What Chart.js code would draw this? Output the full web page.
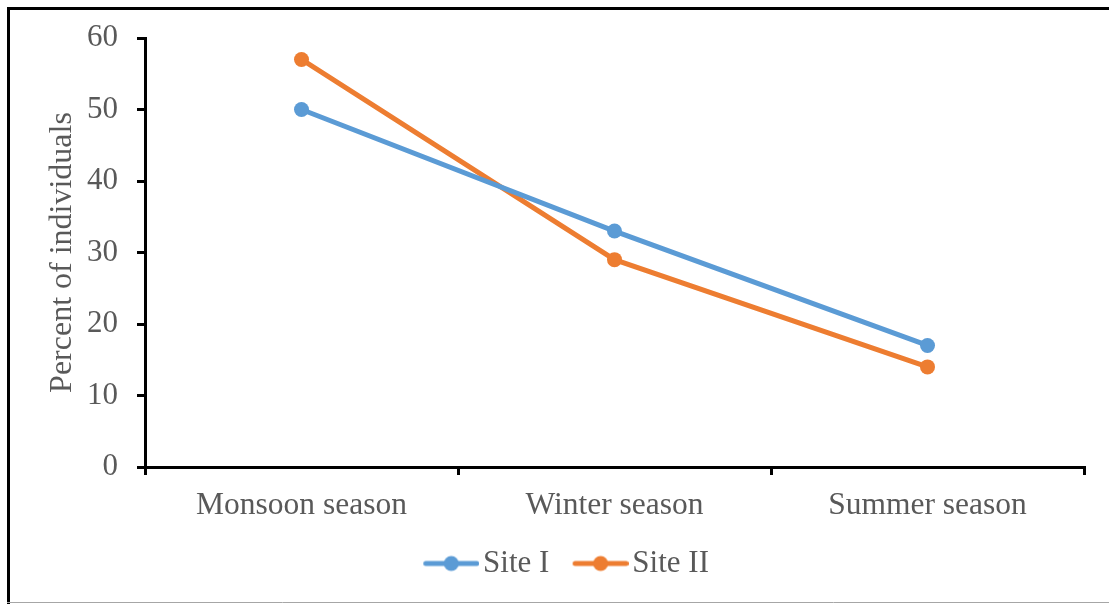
<!DOCTYPE html>
<html>
<head>
<meta charset="utf-8">
<script src="https://cdn.jsdelivr.net/npm/chart.js@4"></script>
<style>
  html, body { margin: 0; padding: 0; background: #fff; }
  #wrap { width: 1109px; height: 604px; position: relative; }
</style>
</head>
<body>
<div id="wrap"><canvas id="chart"></canvas></div>
<script>
// chart data
const seasons = ['Monsoon season', 'Winter season', 'Summer season'];
const siteOne = [50, 33, 17];
const siteTwo = [57, 29, 14];
const yTicks = [0, 10, 20, 30, 40, 50, 60];

const blue = '#5B9BD5';
const orange = '#ED7D31';
const textGray = '#595959';
const fontFamily = "'Liberation Serif', 'Times New Roman', serif";

Chart.defaults.font.family = fontFamily;
Chart.defaults.font.size = 31;
Chart.defaults.color = textGray;

// legend entry: line + dot, drawn on the right part of a wider canvas
// so the gap before the text stays small (legend centres the image)
const markerBox = 52.5;
function legendMarker(color) {
  const c = document.createElement('canvas');
  c.width = 76;
  c.height = 18;
  const ctx = c.getContext('2d');
  const x0 = 20, x1 = 76;
  ctx.strokeStyle = color;
  ctx.lineWidth = 5;
  ctx.lineCap = 'round';
  ctx.beginPath();
  ctx.moveTo(x0 + 2.5, 9);
  ctx.lineTo(x1 - 2.5, 9);
  ctx.stroke();
  ctx.fillStyle = color;
  ctx.beginPath();
  ctx.arc((x0 + x1) / 2, 9, 7.5, 0, Math.PI * 2);
  ctx.fill();
  return c;
}
const markers = [legendMarker(blue), legendMarker(orange)];

// frame round the picture: black top/left, thin grey bottom
const framePlugin = {
  id: 'frame',
  beforeDraw(chart) {
    const ctx = chart.ctx;
    ctx.save();
    ctx.strokeStyle = '#000';
    ctx.lineWidth = 3;
    ctx.beginPath();
    ctx.moveTo(8.5, 604);
    ctx.lineTo(8.5, 8.5);
    ctx.lineTo(1109, 8.5);
    ctx.stroke();
    ctx.strokeStyle = '#A6A6A6';
    ctx.lineWidth = 1;
    ctx.beginPath();
    ctx.moveTo(7, 602.5);
    ctx.lineTo(1109, 602.5);
    ctx.stroke();
    ctx.restore();
  }
};

new Chart(document.getElementById('chart'), {
  type: 'line',
  data: {
    labels: seasons,
    datasets: [
      {
        label: 'Site I',
        data: siteOne,
        borderColor: blue,
        backgroundColor: blue,
        pointBackgroundColor: blue,
        borderWidth: 5,
        pointRadius: 7.5,
        pointBorderWidth: 0,
        tension: 0
      },
      {
        label: 'Site II',
        data: siteTwo,
        borderColor: orange,
        backgroundColor: orange,
        pointBackgroundColor: orange,
        borderWidth: 5,
        pointRadius: 7.5,
        pointBorderWidth: 0,
        tension: 0
      }
    ]
  },
  options: {
    responsive: true,
    maintainAspectRatio: false,
    animation: false,
    layout: {
      padding: { left: 40, right: 25, top: 38, bottom: 15 }
    },
    scales: {
      x: {
        offset: true,
        grid: {
          offset: true,
          drawOnChartArea: false,
          drawTicks: true,
          tickLength: 8,
          color: '#000',
          lineWidth: 3
        },
        border: { color: '#000', width: 3 },
        ticks: { padding: 12, color: textGray, maxRotation: 0, font: { size: 31.5 } },
        afterFit(scale) { scale.height = 66; }
      },
      y: {
        min: 0,
        max: 60,
        afterBuildTicks(scale) {
          scale.ticks = yTicks.map(v => ({ value: v }));
        },
        grid: {
          drawOnChartArea: false,
          drawTicks: true,
          tickLength: 8,
          color: '#000',
          lineWidth: 3
        },
        border: { color: '#000', width: 3 },
        ticks: { padding: 19, color: textGray },
        title: {
          display: true,
          text: 'Percent of individuals',
          color: textGray,
          font: { size: 32 },
          padding: { top: 3, bottom: 0 }
        },
        afterFit(scale) { scale.width = 105; }
      }
    },
    plugins: {
      tooltip: { enabled: false },
      legend: {
        position: 'bottom',
        labels: {
          usePointStyle: true,
          pointStyleWidth: markerBox,
          padding: 15,
          color: textGray,
          font: { size: 31 },
          generateLabels(chart) {
            const items = Chart.defaults.plugins.legend.labels.generateLabels(chart);
            items.forEach((item, i) => { item.pointStyle = markers[i]; });
            return items;
          }
        }
      }
    }
  },
  plugins: [framePlugin]
});
</script>
</body>
</html>
